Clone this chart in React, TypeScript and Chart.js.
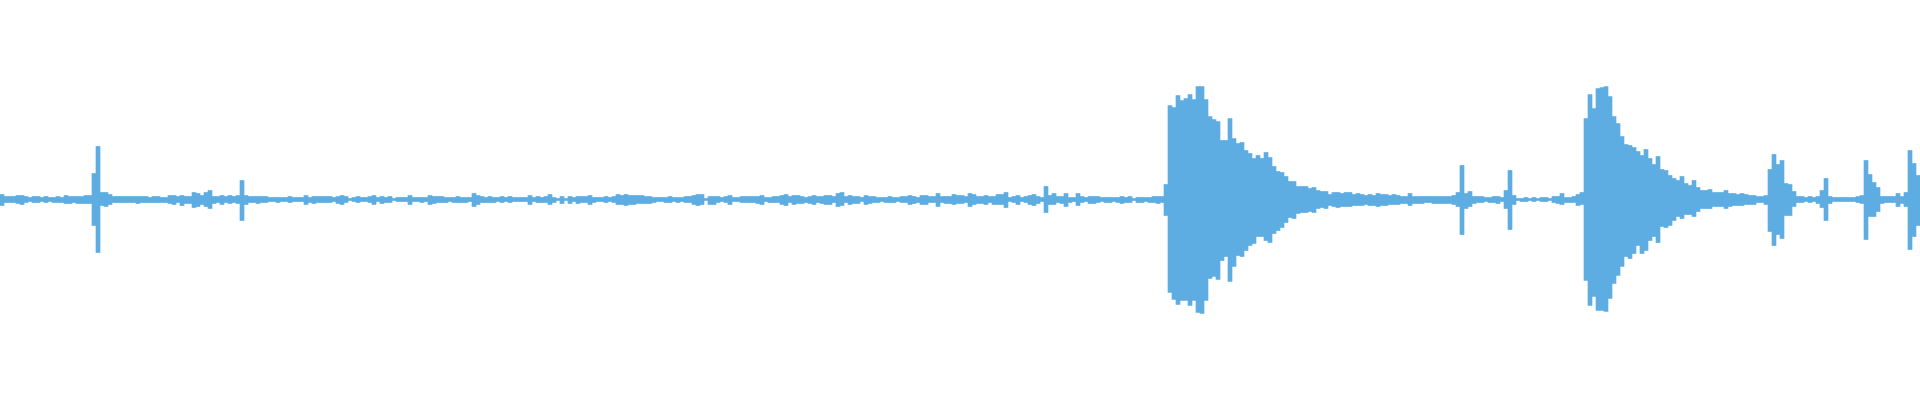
import React, { useEffect, useRef } from "react";
import { Chart, registerables } from "chart.js";

Chart.register(...registerables);

// Waveform envelope: one column per 4 px of the 1920 px track (480 columns).
// Upper peak (positive) and lower peak (magnitude of negative) amplitude per column.
const peakTop: number[] = [
  5, 3, 3, 3, 4, 4, 3, 2, 3, 3, 2, 3, 2, 2, 3, 2, 4, 3, 3, 3, 3, 4, 4, 26, 53, 7, 7, 5, 3, 3, 3, 3, 3, 3, 3, 3, 3, 2, 3, 3,
  2, 2, 4, 4, 3, 4, 3, 3, 7, 6, 4, 7, 9, 3, 3, 4, 3, 4, 3, 4, 19, 4, 3, 3, 3, 3, 3, 2, 2, 2, 2, 2, 3, 2, 2, 2, 4, 2, 3, 3,
  3, 3, 3, 2, 3, 4, 3, 1, 2, 3, 2, 2, 3, 4, 2, 3, 2, 3, 1, 2, 2, 2, 4, 2, 2, 2, 2, 4, 3, 3, 3, 2, 2, 2, 3, 2, 2, 2, 6, 4,
  3, 2, 3, 2, 2, 3, 2, 3, 2, 2, 2, 2, 4, 2, 3, 2, 3, 5, 2, 1, 3, 1, 3, 2, 3, 3, 3, 4, 2, 2, 2, 3, 2, 3, 5, 4, 5, 4, 4, 4,
  4, 3, 3, 2, 2, 2, 2, 3, 2, 2, 2, 3, 3, 4, 5, 5, 1, 3, 3, 3, 2, 3, 4, 2, 2, 3, 3, 3, 3, 3, 4, 2, 2, 3, 3, 4, 5, 3, 4, 4,
  3, 2, 3, 4, 3, 3, 4, 4, 3, 6, 7, 3, 4, 3, 3, 2, 4, 3, 3, 2, 2, 2, 3, 2, 2, 3, 3, 4, 3, 2, 4, 4, 3, 3, 6, 3, 3, 3, 5, 4,
  4, 3, 6, 5, 3, 3, 4, 3, 3, 5, 5, 7, 2, 3, 4, 2, 3, 4, 5, 3, 2, 13, 4, 6, 3, 3, 6, 2, 2, 6, 3, 2, 3, 3, 3, 2, 2, 2, 2, 2,
  3, 2, 3, 1, 2, 2, 2, 2, 3, 3, 3, 15, 94, 92, 104, 99, 101, 105, 100, 113, 113, 100, 83, 80, 78, 59, 59, 81, 61, 56, 57, 49, 46, 41, 44, 41, 47, 42, 33, 28,
  27, 23, 18, 18, 13, 13, 13, 11, 12, 9, 8, 8, 5, 7, 7, 6, 7, 7, 5, 6, 5, 4, 5, 4, 6, 5, 5, 4, 5, 4, 3, 3, 6, 3, 3, 3, 3, 3, 3, 3,
  3, 3, 3, 4, 7, 34, 6, 8, 3, 3, 3, 2, 2, 3, 3, 2, 9, 29, 4, 1, 1, 2, 1, 2, 1, 2, 2, 1, 3, 3, 6, 2, 2, 3, 5, 7, 81, 105, 91, 111,
  112, 113, 103, 83, 76, 63, 55, 54, 52, 48, 44, 50, 41, 35, 43, 30, 29, 24, 21, 19, 23, 16, 14, 19, 12, 9, 9, 10, 7, 7, 7, 9, 6, 6, 5, 6, 5, 4, 4, 3,
  3, 4, 30, 45, 35, 39, 16, 15, 8, 3, 3, 2, 3, 2, 3, 9, 21, 3, 2, 2, 2, 2, 2, 2, 3, 4, 39, 25, 17, 12, 3, 3, 3, 3, 6, 3, 7, 49, 36, 24,
];

const peakBottom: number[] = [
  6, 3, 3, 3, 4, 5, 3, 2, 3, 3, 2, 3, 2, 3, 3, 3, 4, 4, 3, 4, 4, 4, 4, 26, 53, 6, 7, 5, 3, 3, 3, 3, 3, 3, 4, 3, 3, 3, 3, 3,
  3, 3, 4, 5, 3, 6, 4, 4, 8, 7, 5, 7, 9, 4, 3, 5, 3, 4, 3, 4, 21, 5, 3, 3, 4, 3, 3, 2, 2, 3, 2, 2, 3, 2, 2, 2, 5, 3, 4, 3,
  3, 3, 3, 2, 4, 5, 3, 1, 2, 3, 2, 2, 3, 5, 2, 4, 3, 3, 1, 2, 2, 2, 5, 2, 2, 3, 2, 5, 4, 3, 3, 3, 2, 3, 3, 3, 3, 2, 7, 5,
  3, 3, 3, 3, 2, 3, 2, 3, 2, 2, 2, 2, 5, 2, 3, 3, 3, 5, 3, 1, 4, 1, 4, 2, 4, 3, 3, 5, 3, 2, 2, 3, 2, 3, 5, 5, 6, 5, 5, 4,
  4, 4, 4, 3, 2, 2, 3, 3, 2, 3, 2, 3, 3, 5, 6, 5, 1, 5, 5, 3, 2, 3, 5, 2, 2, 3, 3, 3, 3, 4, 5, 2, 3, 3, 3, 5, 6, 3, 5, 4,
  4, 3, 4, 5, 3, 4, 5, 5, 3, 7, 6, 3, 5, 4, 4, 2, 5, 4, 3, 3, 2, 3, 3, 3, 2, 3, 3, 5, 4, 3, 5, 5, 3, 3, 7, 3, 4, 4, 5, 4,
  4, 3, 7, 5, 4, 4, 5, 3, 5, 5, 5, 8, 2, 3, 5, 2, 3, 5, 6, 4, 2, 13, 5, 5, 3, 4, 7, 3, 2, 6, 3, 2, 4, 4, 3, 2, 3, 3, 2, 3,
  4, 3, 3, 1, 3, 3, 2, 3, 3, 4, 3, 16, 93, 100, 105, 101, 101, 106, 101, 113, 114, 101, 79, 77, 80, 61, 57, 82, 67, 56, 57, 51, 46, 44, 37, 37, 41, 43, 34, 31,
  28, 23, 18, 19, 14, 13, 13, 12, 13, 9, 8, 9, 6, 7, 8, 7, 7, 7, 6, 6, 6, 5, 6, 6, 7, 6, 6, 5, 5, 5, 4, 4, 6, 4, 4, 4, 3, 3, 4, 4,
  4, 4, 4, 5, 7, 35, 9, 7, 4, 3, 3, 2, 3, 3, 4, 2, 9, 30, 5, 1, 2, 2, 1, 2, 1, 2, 2, 1, 3, 4, 5, 3, 3, 3, 6, 5, 81, 106, 97, 111,
  111, 112, 99, 84, 76, 67, 57, 59, 54, 46, 54, 51, 41, 37, 43, 27, 28, 26, 21, 17, 19, 15, 15, 17, 12, 9, 9, 9, 7, 7, 7, 9, 7, 6, 6, 6, 5, 5, 5, 3,
  3, 5, 32, 46, 35, 39, 16, 16, 7, 3, 3, 2, 3, 2, 4, 8, 21, 4, 2, 2, 2, 2, 2, 2, 3, 4, 40, 17, 17, 12, 4, 3, 3, 3, 7, 4, 7, 50, 37, 26,
];

const columns: number[] = peakTop.map((_, i) => i);

const WAVE_COLOR = "#5dade2";

export default function App() {
  const canvasRef = useRef<HTMLCanvasElement | null>(null);

  useEffect(() => {
    const canvas = canvasRef.current;
    if (!canvas) return;
    const chart = new Chart(canvas, {
      type: "bar",
      data: {
        labels: columns,
        datasets: [
          {
            label: "waveform",
            data: peakTop.map((t, i) => [-peakBottom[i], t]) as any,
            backgroundColor: WAVE_COLOR,
            borderWidth: 0,
            categoryPercentage: 1,
            barPercentage: 1,
          },
        ],
      },
      options: {
        animation: false,
        responsive: true,
        maintainAspectRatio: false,
        layout: { padding: 0 },
        plugins: {
          legend: { display: false },
          tooltip: { enabled: false },
          title: { display: false },
        },
        scales: {
          x: { display: false, offset: true, grid: { display: false } },
          y: { display: false, min: -200.5, max: 199.5, grid: { display: false } },
        },
      },
    });
    return () => chart.destroy();
  }, []);

  return (
    <div
      style={{
        position: "fixed",
        left: 0,
        top: 0,
        width: "1920px",
        height: "400px",
        background: "#ffffff",
      }}
    >
      <canvas ref={canvasRef} />
    </div>
  );
}
